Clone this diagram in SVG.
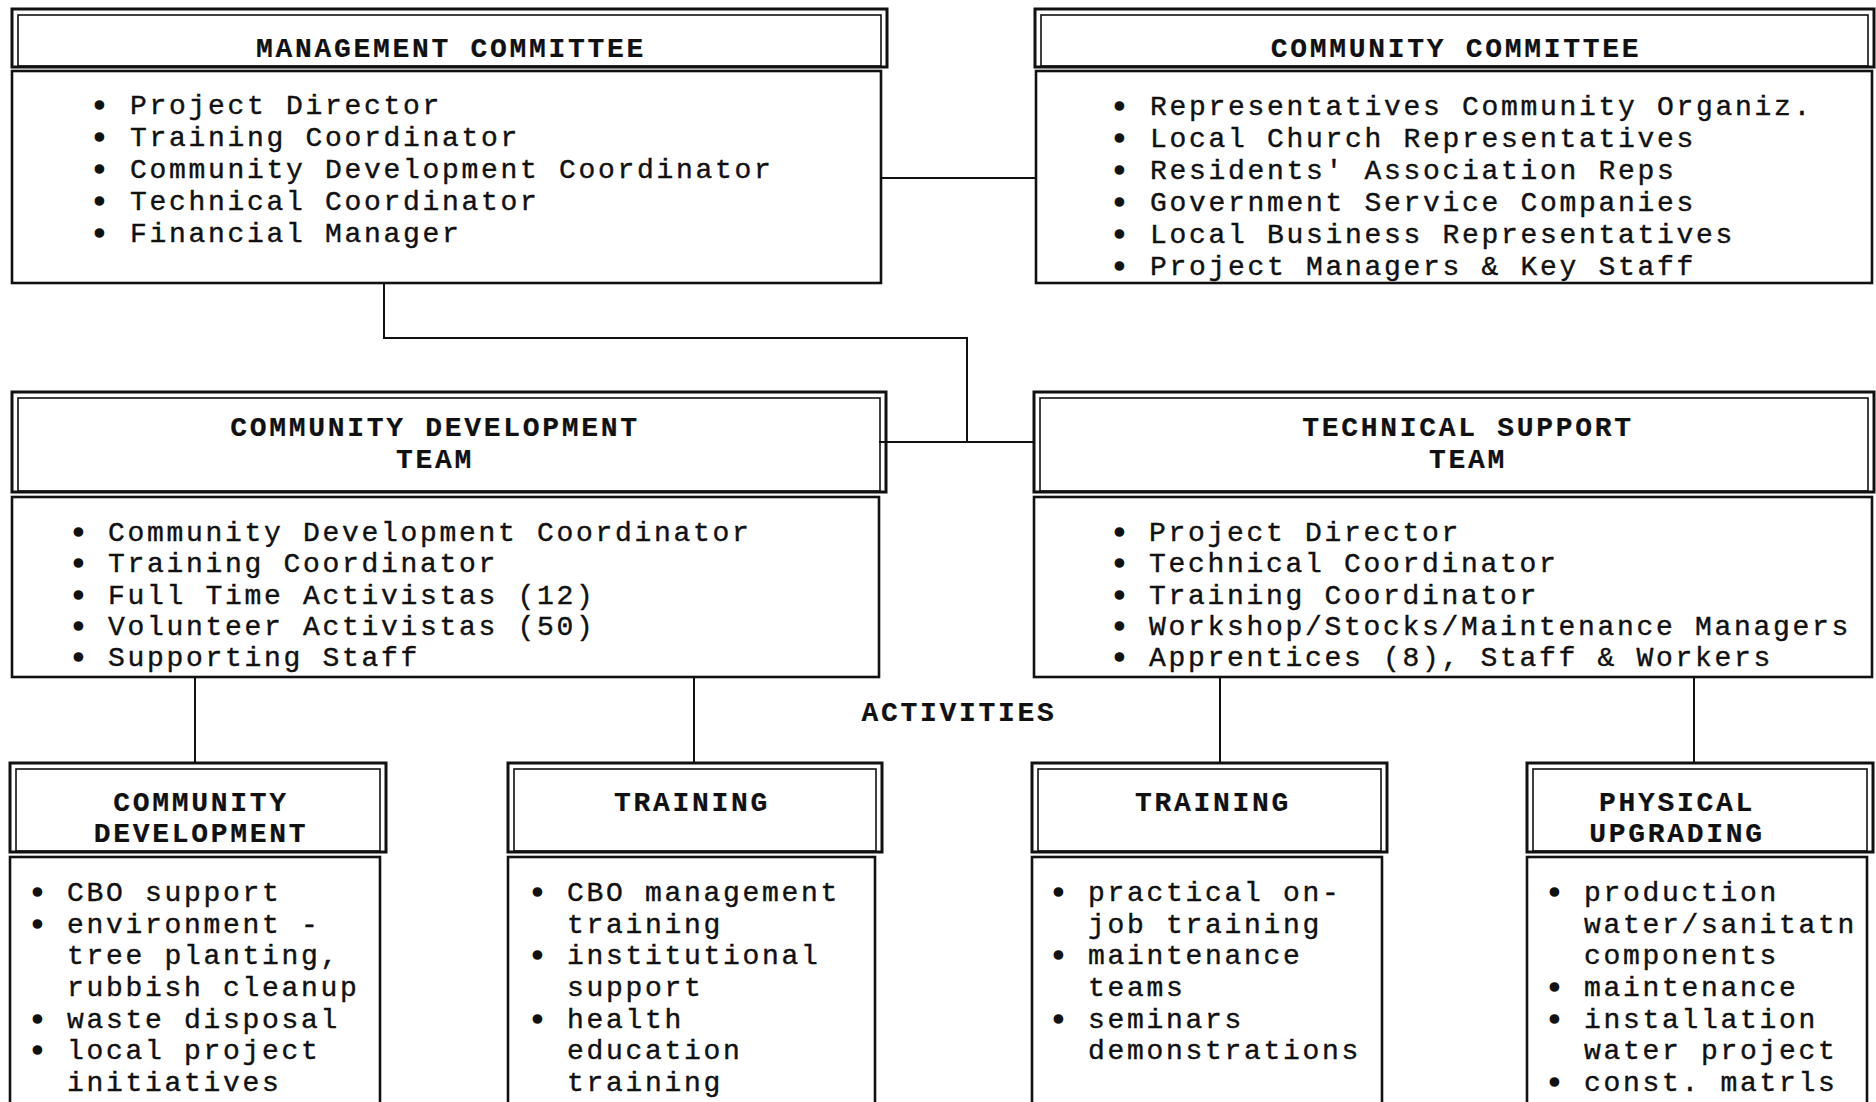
<svg xmlns="http://www.w3.org/2000/svg" width="1876" height="1102" viewBox="0 0 1876 1102">
<style>
.bg{fill:#fff}
.ho{fill:none;stroke:#111;stroke-width:3}
.hi{fill:none;stroke:#111;stroke-width:1.6}
.bd{fill:none;stroke:#111;stroke-width:2.6}
.cn{fill:none;stroke:#111;stroke-width:2}
text{font-family:"Liberation Mono","Courier New",monospace;font-size:28px;letter-spacing:2.7px;fill:#111;stroke:#111;stroke-width:0.4}
.t{font-weight:bold;text-anchor:middle;stroke-width:0.2}
.u{font-weight:bold;letter-spacing:0;stroke-width:1.6}
</style>
<rect class="bg" x="0" y="0" width="1876" height="1102"/>

<g id="connectors">
<line class="cn" x1="881" y1="178" x2="1035" y2="178"/>
<polyline class="cn" points="384,283 384,338 967,338 967,442"/>
<line class="cn" x1="879" y1="442" x2="1034" y2="442"/>
<line class="cn" x1="195" y1="677" x2="195" y2="763"/>
<line class="cn" x1="694" y1="677" x2="694" y2="763"/>
<line class="cn" x1="1220" y1="677" x2="1220" y2="763"/>
<line class="cn" x1="1694" y1="677" x2="1694" y2="763"/>
</g>

<g id="management-committee">
<rect class="ho" x="12" y="9" width="875" height="58"/>
<rect class="hi" x="18" y="15" width="863" height="51"/>
<rect class="bd" x="12" y="71" width="869" height="212"/>
<text class="t" x="451" y="57">MANAGEMENT COMMITTEE</text>
<text y="114"><tspan class="u" x="91">•</tspan><tspan x="130">Project Director</tspan></text>
<text y="146"><tspan class="u" x="91">•</tspan><tspan x="130">Training Coordinator</tspan></text>
<text y="178"><tspan class="u" x="91">•</tspan><tspan x="130">Community Development Coordinator</tspan></text>
<text y="210"><tspan class="u" x="91">•</tspan><tspan x="130">Technical Coordinator</tspan></text>
<text y="242"><tspan class="u" x="91">•</tspan><tspan x="130">Financial Manager</tspan></text>
</g>

<g id="community-committee">
<rect class="ho" x="1035" y="9" width="839" height="58"/>
<rect class="hi" x="1041" y="15" width="827" height="51"/>
<rect class="bd" x="1036" y="71" width="836" height="212"/>
<text class="t" x="1456" y="57">COMMUNITY COMMITTEE</text>
<text y="115"><tspan class="u" x="1111">•</tspan><tspan x="1150">Representatives Community Organiz.</tspan></text>
<text y="147"><tspan class="u" x="1111">•</tspan><tspan x="1150">Local Church Representatives</tspan></text>
<text y="179"><tspan class="u" x="1111">•</tspan><tspan x="1150">Residents' Association Reps</tspan></text>
<text y="211"><tspan class="u" x="1111">•</tspan><tspan x="1150">Government Service Companies</tspan></text>
<text y="243"><tspan class="u" x="1111">•</tspan><tspan x="1150">Local Business Representatives</tspan></text>
<text y="275"><tspan class="u" x="1111">•</tspan><tspan x="1150">Project Managers &amp; Key Staff</tspan></text>
</g>

<g id="community-development-team">
<rect class="ho" x="12" y="392" width="874" height="100"/>
<rect class="hi" x="18" y="398" width="862" height="93"/>
<rect class="bd" x="12" y="497" width="867" height="180"/>
<text class="t" x="435" y="436">COMMUNITY DEVELOPMENT</text>
<text class="t" x="435" y="468">TEAM</text>
<text y="541"><tspan class="u" x="70">•</tspan><tspan x="108">Community Development Coordinator</tspan></text>
<text y="572"><tspan class="u" x="70">•</tspan><tspan x="108">Training Coordinator</tspan></text>
<text y="604"><tspan class="u" x="70">•</tspan><tspan x="108">Full Time Activistas (12)</tspan></text>
<text y="635"><tspan class="u" x="70">•</tspan><tspan x="108">Volunteer Activistas (50)</tspan></text>
<text y="666"><tspan class="u" x="70">•</tspan><tspan x="108">Supporting Staff</tspan></text>
</g>

<g id="technical-support-team">
<rect class="ho" x="1034" y="392" width="840" height="100"/>
<rect class="hi" x="1040" y="398" width="828" height="93"/>
<rect class="bd" x="1034" y="497" width="838" height="180"/>
<text class="t" x="1468" y="436">TECHNICAL SUPPORT</text>
<text class="t" x="1468" y="468">TEAM</text>
<text y="541"><tspan class="u" x="1111">•</tspan><tspan x="1149">Project Director</tspan></text>
<text y="572"><tspan class="u" x="1111">•</tspan><tspan x="1149">Technical Coordinator</tspan></text>
<text y="604"><tspan class="u" x="1111">•</tspan><tspan x="1149">Training Coordinator</tspan></text>
<text y="635"><tspan class="u" x="1111">•</tspan><tspan x="1149">Workshop/Stocks/Maintenance Managers</tspan></text>
<text y="666"><tspan class="u" x="1111">•</tspan><tspan x="1149">Apprentices (8), Staff &amp; Workers</tspan></text>
</g>

<text id="activities" class="t" x="959" y="721">ACTIVITIES</text>

<g id="activity-community-development">
<rect class="ho" x="10" y="763" width="376" height="89"/>
<rect class="hi" x="16" y="769" width="364" height="82"/>
<rect class="bd" x="10" y="857" width="370" height="260"/>
<text class="t" x="201" y="811">COMMUNITY</text>
<text class="t" x="201" y="842">DEVELOPMENT</text>
<text y="901"><tspan class="u" x="29">•</tspan><tspan x="67">CBO support</tspan></text>
<text y="933"><tspan class="u" x="29">•</tspan><tspan x="67">environment -</tspan></text>
<text x="67" y="964">tree planting,</text>
<text x="67" y="996">rubbish cleanup</text>
<text y="1028"><tspan class="u" x="29">•</tspan><tspan x="67">waste disposal</tspan></text>
<text y="1059"><tspan class="u" x="29">•</tspan><tspan x="67">local project</tspan></text>
<text x="67" y="1091">initiatives</text>
</g>

<g id="activity-training-1">
<rect class="ho" x="508" y="763" width="374" height="89"/>
<rect class="hi" x="514" y="769" width="362" height="82"/>
<rect class="bd" x="508" y="857" width="367" height="260"/>
<text class="t" x="692" y="811">TRAINING</text>
<text y="901"><tspan class="u" x="529">•</tspan><tspan x="567">CBO management</tspan></text>
<text x="567" y="933">training</text>
<text y="964"><tspan class="u" x="529">•</tspan><tspan x="567">institutional</tspan></text>
<text x="567" y="996">support</text>
<text y="1028"><tspan class="u" x="529">•</tspan><tspan x="567">health</tspan></text>
<text x="567" y="1059">education</text>
<text x="567" y="1091">training</text>
</g>

<g id="activity-training-2">
<rect class="ho" x="1032" y="763" width="355" height="89"/>
<rect class="hi" x="1038" y="769" width="343" height="82"/>
<rect class="bd" x="1032" y="857" width="350" height="260"/>
<text class="t" x="1213" y="811">TRAINING</text>
<text y="901"><tspan class="u" x="1050">•</tspan><tspan x="1088">practical on-</tspan></text>
<text x="1088" y="933">job training</text>
<text y="964"><tspan class="u" x="1050">•</tspan><tspan x="1088">maintenance</tspan></text>
<text x="1088" y="996">teams</text>
<text y="1028"><tspan class="u" x="1050">•</tspan><tspan x="1088">seminars</tspan></text>
<text x="1088" y="1059">demonstrations</text>
</g>

<g id="activity-physical-upgrading">
<rect class="ho" x="1527" y="763" width="346" height="89"/>
<rect class="hi" x="1533" y="769" width="334" height="82"/>
<rect class="bd" x="1527" y="857" width="340" height="260"/>
<text class="t" x="1677" y="811">PHYSICAL</text>
<text class="t" x="1677" y="842">UPGRADING</text>
<text y="901"><tspan class="u" x="1546">•</tspan><tspan x="1584">production</tspan></text>
<text x="1584" y="933">water/sanitatn</text>
<text x="1584" y="964">components</text>
<text y="996"><tspan class="u" x="1546">•</tspan><tspan x="1584">maintenance</tspan></text>
<text y="1028"><tspan class="u" x="1546">•</tspan><tspan x="1584">installation</tspan></text>
<text x="1584" y="1059">water project</text>
<text y="1091"><tspan class="u" x="1546">•</tspan><tspan x="1584">const. matrls</tspan></text>
</g>
</svg>
